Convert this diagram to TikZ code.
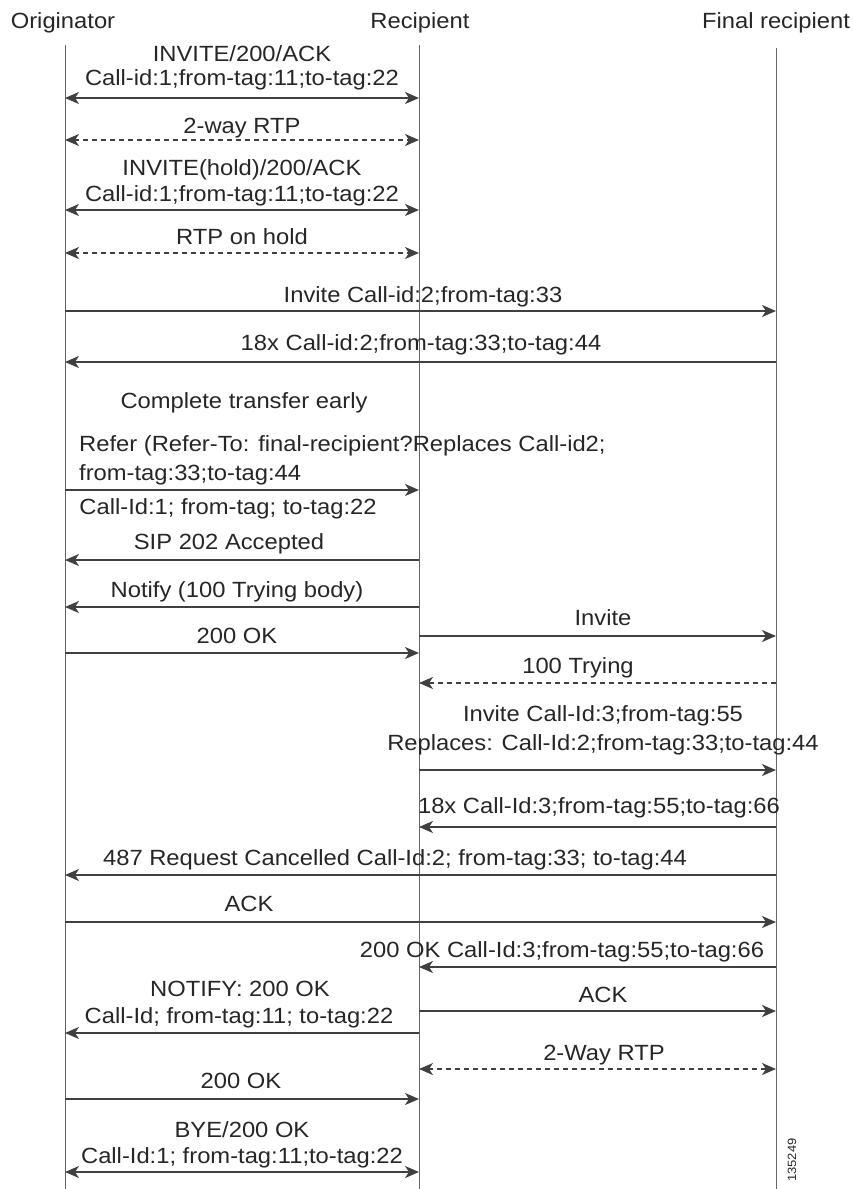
\documentclass[tikz,border=0pt]{standalone}
\usepackage{fontspec}
\setmainfont[FakeStretch=1.08]{Liberation Sans}
\usetikzlibrary{arrows.meta}
\begin{document}
\begin{tikzpicture}[x=1pt,y=-1pt]
\tikzset{
  life/.style={line width=0.9pt, draw=black!60},
  tipst/.tip={Stealth[length=14pt,width=12pt,inset=4pt]},
  msg/.style={line width=1.8pt, draw=black!75, -tipst},
  dmsg/.style={line width=1.8pt, draw=black!75, tipst-tipst},
  rtpline/.style={dash pattern=on 5pt off 4pt},
  lbl/.style={anchor=base, inner sep=0pt, font=\fontsize{22}{24}\selectfont, text=black!85},
  lbll/.style={lbl, anchor=base west},
  tagtext/.style={inner sep=0pt, font=\fontsize{12}{13}\selectfont, rotate=90, text=black!85}
}
\useasboundingbox (0,0) rectangle (853,1189);
% lifelines
\coordinate (O) at (65,45);
\coordinate (R) at (419,45);
\coordinate (F) at (776,48);
\coordinate (Ob) at (65,1189);
\coordinate (Rb) at (419,1189);
\coordinate (Fb) at (776,1189);
\draw[life] (O) -- (Ob);
\draw[life] (R) -- (Rb);
\draw[life] (F) -- (Fb);
% headers
\node[lbl] (hO) at (63,28) {Originator};
\node[lbl] (hR) at (420,28) {Recipient};
\node[lbl] (hF) at (776,28) {Final recipient};
% 1
\node[lbl] (l1a) at (242,61) {INVITE/200/ACK};
\node[lbl] (l1b) at (242,85) {Call-id:1;from-tag:11;to-tag:22};
\coordinate (m1) at (0,98);
\draw[dmsg] (O|-m1) -- (R|-m1);
% 2
\node[lbl] (l2) at (242,133) {2-way RTP};
\coordinate (m2) at (0,140);
\draw[dmsg,rtpline] (O|-m2) -- (R|-m2);
% 3
\node[lbl] (l3a) at (242,175) {INVITE(hold)/200/ACK};
\node[lbl] (l3b) at (242,201) {Call-id:1;from-tag:11;to-tag:22};
\coordinate (m3) at (0,210);
\draw[dmsg] (O|-m3) -- (R|-m3);
% 4
\node[lbl] (l4) at (242,244) {RTP on hold};
\coordinate (m4) at (0,253);
\draw[dmsg,rtpline] (O|-m4) -- (R|-m4);
% 5
\node[lbl] (l5) at (423,302) {Invite Call-id:2;from-tag:33};
\coordinate (m5) at (0,311);
\draw[msg] (O|-m5) -- (F|-m5);
% 6
\node[lbl] (l6) at (421,350) {18x Call-id:2;from-tag:33;to-tag:44};
\coordinate (m6) at (0,362);
\draw[msg] (F|-m6) -- (O|-m6);
% 7
\node[lbl] (l7) at (244,408) {Complete transfer early};
% 8
\node[lbll] (l8a) at (79,451) {Refer (Refer-To: final-recipient?Replaces Call-id2;};
\node[lbll] (l8b) at (79,480) {from-tag:33;to-tag:44};
\coordinate (m8) at (0,490);
\draw[msg] (O|-m8) -- (R|-m8);
% 9
\node[lbl] (l9) at (228,514) {Call-Id:1; from-tag; to-tag:22};
% 10
\node[lbl] (l10) at (229,549) {SIP 202 Accepted};
\coordinate (m10) at (0,560);
\draw[msg] (R|-m10) -- (O|-m10);
% 11
\node[lbl] (l11) at (237,597) {Notify (100 Trying body)};
\coordinate (m11) at (0,607);
\draw[msg] (R|-m11) -- (O|-m11);
% 12
\node[lbl] (l12) at (603,625) {Invite};
\coordinate (m12) at (0,636);
\draw[msg] (R|-m12) -- (F|-m12);
% 13
\node[lbl] (l13) at (237,643) {200 OK};
\coordinate (m13) at (0,653);
\draw[msg] (O|-m13) -- (R|-m13);
% 14
\node[lbl] (l14) at (578,673) {100 Trying};
\coordinate (m14) at (0,683);
\draw[msg,rtpline] (F|-m14) -- (R|-m14);
% 15
\node[lbl] (l15a) at (603,721) {Invite Call-Id:3;from-tag:55};
\node[lbl] (l15b) at (603,750) {Replaces: Call-Id:2;from-tag:33;to-tag:44};
\coordinate (m15) at (0,770);
\draw[msg] (R|-m15) -- (F|-m15);
% 16
\node[lbl] (l16) at (599,813) {18x Call-Id:3;from-tag:55;to-tag:66};
\coordinate (m16) at (0,827);
\draw[msg] (F|-m16) -- (R|-m16);
% 17
\node[lbl] (l17) at (395,865) {487 Request Cancelled Call-Id:2; from-tag:33; to-tag:44};
\coordinate (m17) at (0,875);
\draw[msg] (F|-m17) -- (O|-m17);
% 18
\node[lbl] (l18) at (249,911) {ACK};
\coordinate (m18) at (0,922);
\draw[msg] (O|-m18) -- (F|-m18);
% 19
\node[lbl] (l19) at (562,957) {200 OK Call-Id:3;from-tag:55;to-tag:66};
\coordinate (m19) at (0,967);
\draw[msg] (F|-m19) -- (R|-m19);
% 20
\node[lbl] (l20a) at (240,996) {NOTIFY: 200 OK};
\node[lbl] (l20b) at (239,1023) {Call-Id; from-tag:11; to-tag:22};
\coordinate (m20) at (0,1033);
\draw[msg] (R|-m20) -- (O|-m20);
% 21
\node[lbl] (l21) at (603,1002) {ACK};
\coordinate (m21) at (0,1011);
\draw[msg] (R|-m21) -- (F|-m21);
% 22
\node[lbl] (l22) at (604,1060) {2-Way RTP};
\coordinate (m22) at (0,1069);
\draw[dmsg,rtpline] (R|-m22) -- (F|-m22);
% 23
\node[lbl] (l23) at (241,1088) {200 OK};
\coordinate (m23) at (0,1099);
\draw[msg] (O|-m23) -- (R|-m23);
% 24
\node[lbl] (l24a) at (242,1137) {BYE/200 OK};
\node[lbl] (l24b) at (242,1163) {Call-Id:1; from-tag:11;to-tag:22};
\coordinate (m24) at (0,1172);
\draw[dmsg] (O|-m24) -- (R|-m24);
% figure number
\node[tagtext] (fig) at (792,1160) {135249};
\end{tikzpicture}
\end{document}
